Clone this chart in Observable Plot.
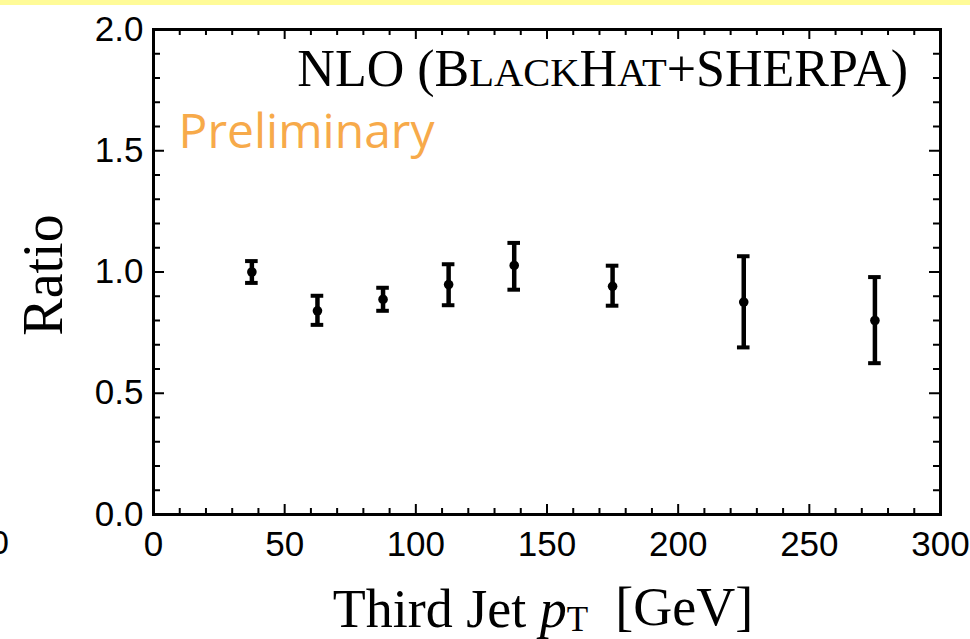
<!DOCTYPE html>
<html>
<head>
<meta charset="utf-8">
<script src="https://cdn.jsdelivr.net/npm/d3@7"></script>
<script src="https://cdn.jsdelivr.net/npm/@observablehq/plot@0.6"></script>
<style>
  html, body { margin: 0; padding: 0; background: #fff; }
  #chart { position: relative; width: 970px; height: 639px; overflow: hidden; }
</style>
</head>
<body>
<div id="chart"></div>
<script>
// Data
const binCenters = [37.5, 62.5, 87.5, 112.5, 137.5, 175, 225, 275];
const ratioValues = [1.00, 0.84, 0.887, 0.948, 1.027, 0.941, 0.876, 0.800];
const errorLow  = [0.955, 0.782, 0.840, 0.863, 0.927, 0.861, 0.689, 0.624];
const errorHigh = [1.045, 0.902, 0.935, 1.032, 1.120, 1.026, 1.065, 0.979];

const xTickLabels = [0, 50, 100, 150, 200, 250, 300];
const yTickLabels = [0, 0.5, 1.0, 1.5, 2.0];

// title pieces: [text, isSmallCaps]
const titleParts = [["NLO (B", false], ["LACK", true], ["H", false], ["AT", true], ["+SHERPA)", false]];
const watermarkText = "Preliminary";

const data = binCenters.map((x, i) => ({x, y: ratioValues[i], lo: errorLow[i], hi: errorHigh[i]}));

const W = 970, H = 639;
const mL = 153, mR = 30, mT = 29, mB = 125;
const innerW = W - mL - mR, innerH = H - mT - mB;
const capHalf = 2.4;

const xMinor = d3.range(0, 301, 10).filter(d => d % 50 !== 0);
const yMinor = d3.range(0, 21, 1).map(d => d / 10).filter(d => Math.round(d * 10) % 5 !== 0);

const sans = "Liberation Sans, Arial, Helvetica, sans-serif";
const serif = "Liberation Serif, Times New Roman, serif";

const plot = Plot.plot({
  width: W, height: H,
  marginLeft: mL, marginRight: mR, marginTop: mT, marginBottom: mB,
  x: {domain: [0, 300]},
  y: {domain: [0, 2]},
  style: {fontFamily: sans, fontSize: "35px", background: "#fff", color: "#000", overflow: "visible"},
  marks: [
    // ticks: bottom / top
    Plot.tickX(xMinor, {x: d => d, insetTop: innerH - 6, strokeWidth: 2, stroke: "#000"}),
    Plot.tickX(xMinor, {x: d => d, insetBottom: innerH - 6, strokeWidth: 2, stroke: "#000"}),
    Plot.tickX(xTickLabels, {x: d => d, insetTop: innerH - 10, strokeWidth: 2, stroke: "#000"}),
    Plot.tickX(xTickLabels, {x: d => d, insetBottom: innerH - 10, strokeWidth: 2, stroke: "#000"}),
    // ticks: left / right
    Plot.tickY(yMinor, {y: d => d, insetRight: innerW - 7, strokeWidth: 2, stroke: "#000"}),
    Plot.tickY(yMinor, {y: d => d, insetLeft: innerW - 7, strokeWidth: 2, stroke: "#000"}),
    Plot.tickY(yTickLabels, {y: d => d, insetRight: innerW - 11, strokeWidth: 2, stroke: "#000"}),
    Plot.tickY(yTickLabels, {y: d => d, insetLeft: innerW - 11, strokeWidth: 2, stroke: "#000"}),
    Plot.frame({stroke: "#000", strokeWidth: 3}),
    Plot.axisX(xTickLabels, {tickSize: 0, tickPadding: 17, fontSize: 35, fontFamily: sans, tickFormat: d => String(d), label: null}),
    Plot.axisY(yTickLabels, {tickSize: 0, tickPadding: 10, fontSize: 35, fontFamily: sans, tickFormat: d3.format(".1f"), label: null}),
    // error bars
    Plot.ruleX(data, {x: "x", y1: "lo", y2: "hi", stroke: "#000", strokeWidth: 4.5}),
    Plot.ruleY(data, {y: "lo", x1: d => d.x - capHalf, x2: d => d.x + capHalf, stroke: "#000", strokeWidth: 4}),
    Plot.ruleY(data, {y: "hi", x1: d => d.x - capHalf, x2: d => d.x + capHalf, stroke: "#000", strokeWidth: 4}),
    Plot.dot(data, {x: "x", y: "y", r: 4.8, fill: "#000", stroke: null}),
    // watermark
    Plot.text([watermarkText], {frameAnchor: "top-left", textAnchor: "start", lineAnchor: "top", dx: 25, dy: 84,
      fontFamily: "Open Sans, sans-serif", fontSize: 48, fill: "#F7AA4A"})
  ]
});

const svg = d3.select(plot);
// yellow band at the top
svg.insert("rect", ":first-child").attr("x", 0).attr("y", 0).attr("width", W).attr("height", 5).attr("fill", "#FFFB98");

// title with small caps
const tt = svg.append("text")
  .attr("x", 908).attr("y", 86)
  .attr("text-anchor", "end")
  .attr("font-family", serif).attr("font-size", 52).attr("fill", "#000");
titleParts.forEach(([s, sc]) => {
  const t = tt.append("tspan").text(s);
  if (sc) t.attr("font-size", "0.78em");
});

// y-axis label
svg.append("text")
  .attr("transform", "translate(62,275) rotate(-90)")
  .attr("text-anchor", "middle")
  .attr("font-family", serif).attr("font-size", 56).attr("fill", "#000")
  .text("Ratio");

// x-axis label with italic p and subscript T
const xl = svg.append("text")
  .attr("x", 543).attr("y", 627)
  .attr("text-anchor", "middle")
  .attr("font-family", serif).attr("font-size", 54).attr("fill", "#000")
  .style("white-space", "pre");
xl.append("tspan").text("Third Jet ");
xl.append("tspan").attr("font-style", "italic").text("p");
xl.append("tspan").attr("font-size", "0.65em").attr("dy", "0.11em").text("T");
xl.append("tspan").attr("dy", "-0.11em").text("  [GeV]");

// clipped "0" from the neighbouring panel at the far left (cut off in the reference too)
svg.append("text").attr("x", 9).attr("y", 554).attr("text-anchor", "end")
  .attr("font-family", sans).attr("font-size", 34).attr("fill", "#000").text("0");

document.getElementById("chart").appendChild(plot);
</script>
</body>
</html>
